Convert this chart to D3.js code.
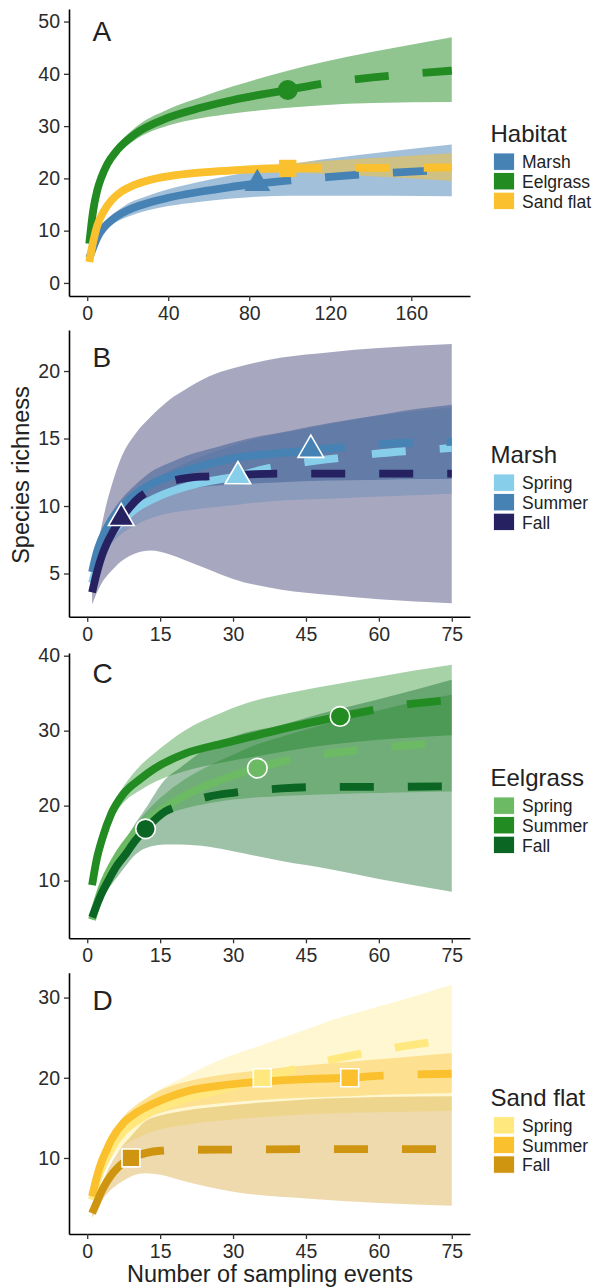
<!DOCTYPE html>
<html>
<head>
<meta charset="utf-8">
<script src="https://cdn.jsdelivr.net/npm/d3@7"></script>
<style>
  body { margin: 0; background: #fff; }
  svg { display: block; font-family: "Liberation Sans", Arial, Helvetica, sans-serif; }
</style>
</head>
<body>
<svg id="chart" width="596" height="1287"></svg>
<script>
/* ---------- data ---------- */

// Panel A - habitats
var habitatNames = ["Marsh", "Eelgrass", "Sand flat"];
var habitatColors = ["#4682B4", "#228B22", "#FBC02D"];
var habitatObserved = [84, 99, 99];

var marshX  = [1, 3, 5, 8, 12, 17, 23, 30, 40, 55, 70, 84, 100, 120, 150, 180];
var marshY  = [4.8, 6.8, 8.7, 10.5, 12.0, 13.3, 14.4, 15.3, 16.3, 17.4, 18.3, 19.0, 19.6, 20.3, 21.1, 21.6];
var marshLo = [4.6, 6.4, 8.2, 9.8, 11.1, 12.2, 13.1, 13.9, 14.7, 15.5, 16.1, 16.5, 16.7, 16.7, 16.7, 16.6];
var marshHi = [5.0, 7.2, 9.2, 11.2, 12.9, 14.4, 15.7, 16.7, 17.9, 19.3, 20.5, 21.5, 22.7, 23.8, 25.2, 26.5];

var eelX  = [1, 2, 3, 5, 7, 10, 15, 23, 40, 56, 72, 99, 116, 141, 180];
var eelY  = [7.5, 11, 14, 17.8, 20.2, 22.8, 25.5, 28.3, 31.6, 33.5, 35.0, 36.9, 38.1, 39.3, 40.6];
var eelLo = [7.3, 10.7, 13.6, 17.3, 19.6, 22.1, 24.7, 27.2, 30.1, 31.5, 32.4, 33.5, 34.0, 34.4, 34.6];
var eelHi = [7.7, 11.3, 14.4, 18.3, 20.8, 23.5, 26.4, 29.5, 33.2, 35.5, 37.6, 40.6, 42.2, 44.2, 47.0];

var sandX  = [1, 3, 5, 8, 12, 17, 23, 30, 40, 55, 70, 85, 99, 120, 150, 180];
var sandY  = [4.0, 8.0, 11.0, 13.6, 15.8, 17.5, 18.7, 19.6, 20.4, 21.1, 21.5, 21.8, 21.9, 22.0, 22.0, 22.1];
var sandLo = [3.8, 7.7, 10.6, 13.1, 15.2, 16.8, 18.0, 18.9, 19.7, 20.4, 20.8, 21.0, 21.1, 20.8, 20.2, 19.5];
var sandHi = [4.2, 8.3, 11.4, 14.1, 16.4, 18.2, 19.4, 20.3, 21.1, 21.8, 22.2, 22.6, 22.9, 23.4, 24.1, 24.8];

var seasonNames = ["Spring", "Summer", "Fall"];

// Panel B - marsh by season
var marshSeasonColors = ["#87CEEB", "#4682B4", "#262262"];
var marshSeasonObserved = [31, 46, 7];

var bSpringX  = [1, 2, 3, 5, 7, 10, 14, 21, 26, 31, 36, 46, 53, 60, 67, 75];
var bSpringY  = [4.3, 5.6, 6.6, 7.9, 8.8, 9.8, 10.6, 11.5, 11.9, 12.2, 12.7, 13.3, 13.6, 13.9, 14.1, 14.3];
var bSpringLo = [4.1, 5.2, 6.1, 7.2, 7.9, 8.6, 9.2, 9.7, 9.9, 10.1, 10.3, 10.5, 10.6, 10.7, 10.8, 10.9];
var bSpringHi = [4.5, 6.0, 7.1, 8.6, 9.7, 10.9, 12.0, 13.3, 14.0, 14.6, 15.1, 15.8, 16.3, 16.7, 17.0, 17.3];

var bSummerX  = [1, 2, 3, 5, 7, 10, 13, 17, 21, 26, 31, 36, 42, 46, 54, 61, 68, 75];
var bSummerY  = [5.1, 6.6, 7.6, 9.0, 9.9, 10.9, 11.6, 12.2, 12.7, 13.2, 13.6, 13.8, 14.0, 14.15, 14.4, 14.6, 14.7, 14.75];
var bSummerLo = [4.9, 6.3, 7.2, 8.5, 9.3, 10.2, 10.7, 11.1, 11.3, 11.5, 11.6, 11.7, 11.8, 11.85, 11.9, 11.95, 12.0, 12.0];
var bSummerHi = [5.3, 6.9, 8.0, 9.5, 10.5, 11.6, 12.5, 13.2, 13.8, 14.3, 14.8, 15.2, 15.6, 15.9, 16.4, 16.8, 17.2, 17.5];

var bFallX  = [1, 2, 3, 4, 5, 7, 10, 13, 17, 20, 25, 30, 40, 50, 60, 75];
var bFallY  = [3.6, 5.1, 6.3, 7.2, 7.9, 9.1, 10.4, 11.2, 11.8, 12.05, 12.2, 12.3, 12.4, 12.4, 12.4, 12.4];
var bFallLo = [2.7, 3.6, 4.3, 4.8, 5.2, 5.9, 6.5, 6.7, 6.4, 6.0, 5.3, 4.6, 3.8, 3.4, 3.1, 2.8];
var bFallHi = [4.5, 6.8, 8.6, 10.2, 11.5, 13.6, 15.4, 16.6, 17.9, 18.6, 19.6, 20.2, 21.0, 21.4, 21.7, 22.0];

// Panel C - eelgrass by season
var eelSeasonColors = ["#6CBB64", "#228B22", "#0B6623"];
var eelSeasonObserved = [35, 52, 12];

var cSpringX  = [1, 3, 6, 10, 15, 20, 25, 30, 35, 40, 53, 60, 67, 75];
var cSpringY  = [4.8, 9.0, 13.0, 16.5, 19.3, 21.3, 22.8, 24.0, 25.0, 25.9, 27.2, 27.7, 28.1, 28.4];
var cSpringLo = [4.6, 8.6, 12.5, 16.3, 18.5, 19.6, 20.3, 20.8, 21.1, 21.3, 21.6, 21.7, 21.8, 21.9];
var cSpringHi = [5.0, 9.4, 13.6, 17.5, 21.0, 23.5, 25.3, 26.8, 28.2, 29.2, 31.6, 32.7, 33.8, 34.8];

var cSummerX  = [1, 2, 3, 5, 7.5, 11, 14, 20, 28, 35, 42, 52, 60, 67, 75];
var cSummerY  = [9.4, 13, 15.4, 19, 21.6, 23.6, 25.0, 26.9, 28.3, 29.4, 30.5, 31.9, 32.9, 33.6, 34.1];
var cSummerLo = [9.2, 12.5, 14.8, 18.0, 20.4, 22.1, 23.2, 24.6, 25.8, 26.6, 27.4, 28.3, 28.8, 29.1, 29.4];
var cSummerHi = [9.6, 13.5, 16.1, 19.9, 22.6, 25.4, 27.1, 30.0, 32.5, 34.1, 35.1, 36.3, 37.2, 38.0, 38.8];

var cFallX  = [1, 2.7, 4.5, 6, 8, 9.5, 12, 16, 19, 25, 30, 40, 50, 60, 75];
var cFallY  = [5.1, 7.9, 10.2, 11.9, 13.6, 15.0, 16.9, 19.2, 20.0, 21.2, 21.7, 22.3, 22.5, 22.5, 22.6];
var cFallLo = [4.6, 7.0, 9.0, 10.3, 12.0, 13.2, 14.3, 14.8, 14.8, 14.5, 13.9, 12.6, 11.5, 10.2, 8.5];
var cFallHi = [5.6, 8.8, 11.5, 13.5, 15.6, 17.2, 19.6, 23.5, 25.0, 27.8, 29.2, 30.8, 32.6, 34.2, 36.8];

// Panel D - sand flat by season
var sandSeasonColors = ["#FFE97F", "#FBC02D", "#CF9511"];
var sandSeasonObserved = [36, 54, 9];

var dSpringX  = [1, 2, 3, 4, 5, 7.5, 10, 14, 20, 28, 36, 44, 52, 60, 68, 75];
var dSpringY  = [4.8, 7.0, 8.7, 10.0, 11.2, 13.3, 14.5, 16.0, 17.3, 18.6, 20.0, 21.3, 22.5, 23.4, 24.2, 24.7];
var dSpringLo = [4.6, 6.5, 8.0, 9.0, 9.9, 11.5, 12.4, 13.4, 14.1, 14.7, 15.1, 15.4, 15.6, 15.7, 15.8, 15.9];
var dSpringHi = [5.0, 7.5, 9.4, 10.9, 12.2, 14.6, 16.3, 18.2, 20.1, 22.4, 24.1, 25.8, 27.5, 28.9, 30.3, 31.6];

var dSummerX  = [1, 2, 3, 4, 5, 7.5, 10, 13, 16, 21, 27, 35, 44, 54, 62, 75];
var dSummerY  = [5.2, 7.7, 9.6, 11.0, 12.3, 14.4, 15.6, 16.6, 17.4, 18.4, 19.0, 19.5, 19.8, 20.0, 20.3, 20.5];
var dSummerLo = [5.0, 7.4, 9.2, 10.5, 11.7, 13.5, 14.4, 15.2, 15.8, 16.4, 16.8, 17.2, 17.5, 17.7, 17.9, 18.1];
var dSummerHi = [5.4, 8.0, 10.0, 11.5, 12.9, 15.2, 16.6, 17.8, 18.7, 19.6, 20.3, 20.9, 21.5, 22.0, 22.4, 23.1];

var dFallX  = [1, 2, 3, 4, 5, 6, 7, 9, 12, 15, 20, 30, 45, 60, 75];
var dFallY  = [3.1, 4.5, 5.9, 7.0, 7.9, 8.6, 9.2, 10.0, 10.6, 10.9, 11.0, 11.05, 11.1, 11.1, 11.1];
var dFallLo = [2.5, 3.6, 4.7, 5.5, 6.1, 6.6, 7.0, 7.7, 8.1, 7.9, 7.1, 5.8, 4.95, 4.4, 4.05];
var dFallHi = [3.5, 5.2, 6.8, 8.2, 9.4, 10.4, 11.3, 12.7, 14.6, 15.3, 15.9, 16.6, 17.3, 17.6, 17.7];

// axis ticks
var habitatXTicks = [0, 40, 80, 120, 160];
var seasonXTicks = [0, 15, 30, 45, 60, 75];
var aYTicks = [0, 10, 20, 30, 40, 50];
var bYTicks = [5, 10, 15, 20];
var cYTicks = [10, 20, 30, 40];
var dYTicks = [10, 20, 30];

/* ---------- drawing ---------- */

var svg = d3.select('#chart');
var PLOT_LEFT = 69, PLOT_RIGHT = 470;
var LINE_W = 7.8;

function series(name, color, obs, xs, ys, lo, hi) {
    return {
        name: name, color: color, obs: obs,
        pts: xs.map(function (v, i) { return { x: v, y: ys[i], lo: lo[i], hi: hi[i] }; })
    };
}

var panels = [
    {
        letter: 'A', legendTitle: 'Habitat', top: 9, bottom: 296, letterY: 40.7,
        xDomain: [-9, 189], yDomain: [-2.5, 52.4], xTicks: habitatXTicks, yTicks: aYTicks,
        shape: null, bandAlpha: [0.5, 0.5, 0.5],
        series: [
            series(habitatNames[0], habitatColors[0], habitatObserved[0], marshX, marshY, marshLo, marshHi),
            series(habitatNames[1], habitatColors[1], habitatObserved[1], eelX, eelY, eelLo, eelHi),
            series(habitatNames[2], habitatColors[2], habitatObserved[2], sandX, sandY, sandLo, sandHi)
        ]
    },
    {
        letter: 'B', legendTitle: 'Marsh', top: 330, bottom: 616.7, letterY: 366.7,
        xDomain: [-3.75, 78.75], yDomain: [1.8, 23.04], xTicks: seasonXTicks, yTicks: bYTicks,
        shape: d3.symbolTriangle, size: 285, bandAlpha: [0.4, 0.5, 0.4],
        series: [
            series(seasonNames[0], marshSeasonColors[0], marshSeasonObserved[0], bSpringX, bSpringY, bSpringLo, bSpringHi),
            series(seasonNames[1], marshSeasonColors[1], marshSeasonObserved[1], bSummerX, bSummerY, bSummerLo, bSummerHi),
            series(seasonNames[2], marshSeasonColors[2], marshSeasonObserved[2], bFallX, bFallY, bFallLo, bFallHi)
        ]
    },
    {
        letter: 'C', legendTitle: 'Eelgrass', top: 653, bottom: 938.3, letterY: 682.7,
        xDomain: [-3.75, 78.75], yDomain: [2.3, 40.36], xTicks: seasonXTicks, yTicks: cYTicks,
        shape: d3.symbolCircle, size: 300, bandAlpha: [0.5, 0.4, 0.4],
        series: [
            series(seasonNames[0], eelSeasonColors[0], eelSeasonObserved[0], cSpringX, cSpringY, cSpringLo, cSpringHi),
            series(seasonNames[1], eelSeasonColors[1], eelSeasonObserved[1], cSummerX, cSummerY, cSummerLo, cSummerHi),
            series(seasonNames[2], eelSeasonColors[2], eelSeasonObserved[2], cFallX, cFallY, cFallLo, cFallHi)
        ]
    },
    {
        letter: 'D', legendTitle: 'Sand flat', top: 972.7, bottom: 1234, letterY: 1010,
        xDomain: [-3.75, 78.75], yDomain: [0.52, 33.1], xTicks: seasonXTicks, yTicks: dYTicks,
        shape: d3.symbolSquare, size: 320, bandAlpha: [0.35, 0.4, 0.35],
        series: [
            series(seasonNames[0], sandSeasonColors[0], sandSeasonObserved[0], dSpringX, dSpringY, dSpringLo, dSpringHi),
            series(seasonNames[1], sandSeasonColors[1], sandSeasonObserved[1], dSummerX, dSummerY, dSummerLo, dSummerHi),
            series(seasonNames[2], sandSeasonColors[2], sandSeasonObserved[2], dFallX, dFallY, dFallLo, dFallHi)
        ]
    }
];

// panel A uses a different marker per habitat
var habitatShapes = [d3.symbolTriangle, d3.symbolCircle, d3.symbolSquare];
var habitatSizes = [290, 314, 300];

panels.forEach(function (p) {
    var g = svg.append('g');
    var x = d3.scaleLinear().domain(p.xDomain).range([PLOT_LEFT, PLOT_RIGHT]);
    var y = d3.scaleLinear().domain(p.yDomain).range([p.bottom, p.top]);

    var area = d3.area()
        .x(function (d) { return x(d.x); })
        .y0(function (d) { return y(d.lo); })
        .y1(function (d) { return y(d.hi); })
        .curve(d3.curveMonotoneX);
    var line = d3.line()
        .x(function (d) { return x(d.x); })
        .y(function (d) { return y(d.y); })
        .curve(d3.curveMonotoneX);

    /* confidence bands */
    p.series.forEach(function (s, si) {
        g.append('path').datum(s.pts)
            .attr('d', area)
            .attr('fill', s.color)
            .attr('fill-opacity', p.bandAlpha[si]);
    });

    /* rarefied (solid) and extrapolated (dashed) curves */
    p.series.forEach(function (s) {
        var inter = s.pts.filter(function (d) { return d.x <= s.obs; });
        var extra = s.pts.filter(function (d) { return d.x >= s.obs; });
        g.append('path').datum(inter)
            .attr('d', line).attr('fill', 'none')
            .attr('stroke', s.color).attr('stroke-width', LINE_W);
        g.append('path').datum(extra)
            .attr('d', line).attr('fill', 'none')
            .attr('stroke', s.color).attr('stroke-width', LINE_W)
            .attr('stroke-dasharray', '34,34');
    });

    /* observed points */
    p.series.forEach(function (s, si) {
        var ob = s.pts.filter(function (d) { return d.x === s.obs; })[0];
        var shape = p.shape || habitatShapes[si];
        var size = p.shape ? p.size : habitatSizes[si];
        var m = g.append('path')
            .attr('d', d3.symbol().type(shape).size(size)())
            .attr('transform', 'translate(' + x(ob.x) + ',' + y(ob.y) + ')')
            .attr('fill', s.color);
        if (p.shape) m.attr('stroke', '#fff').attr('stroke-width', 1.6);
    });

    /* axes */
    var yAxis = g.append('g')
        .attr('transform', 'translate(' + PLOT_LEFT + ',0)')
        .call(d3.axisLeft(y).tickValues(p.yTicks).tickSize(5).tickSizeOuter(0).tickPadding(4));
    var xAxis = g.append('g')
        .attr('transform', 'translate(0,' + p.bottom + ')')
        .call(d3.axisBottom(x).tickValues(p.xTicks).tickSize(5).tickSizeOuter(0).tickPadding(5));
    [xAxis, yAxis].forEach(function (ax) {
        ax.select('.domain').attr('stroke', '#000').attr('stroke-width', 1.6);
        ax.selectAll('.tick line').attr('stroke', '#333').attr('stroke-width', 1.3);
        ax.selectAll('.tick text').attr('fill', '#2b2b2b')
            .style('font-size', '19.5px').style('font-family', '"Liberation Sans", Arial, sans-serif');
    });

    /* panel letter */
    g.append('text')
        .attr('x', 92.5).attr('y', p.letterY)
        .attr('fill', '#222').style('font-size', '28px')
        .text(p.letter);

    /* legend */
    var lg = g.append('g');
    var titleY = p.top + 133;
    lg.append('text')
        .attr('x', 490.5).attr('y', titleY)
        .attr('fill', '#222').style('font-size', '24px')
        .text(p.legendTitle);
    p.series.forEach(function (s, i) {
        var ky = titleY + 11 + i * 19.6;
        lg.append('rect')
            .attr('x', 493.5).attr('y', ky)
            .attr('width', 21).attr('height', 17.3)
            .attr('fill', s.color)
            .attr('stroke', '#fff').attr('stroke-width', 0.8);
        lg.append('text')
            .attr('x', 522).attr('y', ky + 15.3)
            .attr('fill', '#222').style('font-size', '17.5px')
            .text(s.name);
    });
});

/* axis titles */
svg.append('text')
    .attr('transform', 'translate(29,475) rotate(-90)')
    .attr('text-anchor', 'middle')
    .attr('fill', '#222').style('font-size', '23.5px')
    .text('Species richness');
svg.append('text')
    .attr('x', 270).attr('y', 1281.5)
    .attr('text-anchor', 'middle')
    .attr('fill', '#222').style('font-size', '23.5px')
    .text('Number of sampling events');
</script>
</body>
</html>
